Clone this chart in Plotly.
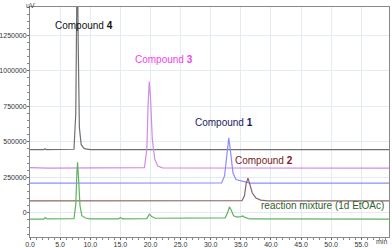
import plotly.graph_objects as go

# ---- data ----
t_c4 = [0, 2.3, 2.5, 2.7, 7.3, 7.6, 7.8, 7.9, 8.0, 8.2, 8.5, 9.0, 10.0, 59.6]
v_c4 = [445000, 445000, 452000, 445000, 448000, 700000, 1650000, 1650000, 1200000, 600000, 480000, 452000, 446000, 445000]

t_c3 = [0, 3.0, 19.0, 19.4, 19.6, 19.8, 20.0, 20.3, 20.7, 21.2, 22.0, 59.6]
v_c3 = [318000, 315000, 318000, 450000, 750000, 925000, 820000, 520000, 380000, 330000, 317000, 315000]

t_c1 = [0, 19.5, 19.9, 20.5, 31.8, 32.3, 32.7, 33.0, 33.3, 33.7, 34.2, 35.0, 35.8, 36.5, 59.6]
v_c1 = [209000, 209000, 213000, 209000, 211000, 260000, 440000, 528000, 430000, 280000, 235000, 225000, 215000, 210000, 209000]

t_c2 = [0, 35.2, 35.6, 35.9, 36.2, 36.5, 36.9, 37.5, 38.3, 39.5, 59.6]
v_c2 = [84500, 86000, 120000, 210000, 245000, 200000, 140000, 105000, 90000, 85000, 84500]

t_mix = [0, 2.3, 2.5, 2.8, 7.3, 7.6, 7.8, 7.9, 8.05, 8.3, 8.6, 9.2, 10, 14.7, 15.0, 15.4,
         19.4, 19.8, 20.2, 20.8, 32.4, 32.8, 33.1, 33.4, 33.8, 34.4, 35.0, 35.3, 35.7, 36.5, 59.6]
v_mix = [-44000, -44000, -33000, -42000, -40000, 60000, 300000, 357000, 250000, 50000, -20000, -36000,
         -42000, -42000, -34000, -42000, -40000, -9000, -25000, -38000, -35000, 0, 42000, 20000,
         -20000, -30000, -26000, -22000, -32000, -43000, -44000]

x_ticks = [0, 5, 10, 15, 20, 25, 30, 35, 40, 45, 50, 55]
y_ticks = [0, 250000, 500000, 750000, 1000000, 1250000]

labels = ["Compound <b>4</b>", "Compound <b>3</b>", "Compound <b>1</b>", "Compound <b>2</b>",
          "reaction mixture (1d EtOAc)"]
label_x = [9.0, 22.3, 32.2, 38.9, 48.5]
label_y = [1317000, 1077000, 634000, 366000, 49000]
label_colors = ["#111111", "#ee44ee", "#1a1a5e", "#7a1a1a", "#2e5e2e"]

fig = go.Figure()
series = [(t_c4, v_c4, "#707070"), (t_c3, v_c3, "#d08ae8"), (t_c1, v_c1, "#8c8cff"),
          (t_c2, v_c2, "#8c6464"), (t_mix, v_mix, "#62b262")]
for t, v, c in series:
    fig.add_trace(go.Scatter(x=t, y=v, mode="lines", line=dict(color=c, width=1.2), showlegend=False))

for txt, lx, ly, lc in zip(labels, label_x, label_y, label_colors):
    fig.add_annotation(x=lx, y=ly, text=txt, showarrow=False,
                       font=dict(family="Liberation Sans", size=10, color=lc))

fig.add_annotation(xref="paper", yref="paper", x=0, y=1, xanchor="center", yanchor="bottom",
                   yshift=-3, borderpad=0, text="uV", showarrow=False,
                   font=dict(family="Liberation Sans", size=7, color="#444"))
fig.add_annotation(xref="paper", yref="paper", x=1, y=0, xanchor="right", yanchor="top", yshift=1,
                   text="min", showarrow=False, font=dict(family="Liberation Sans", size=7, color="#444"))

axis_common = dict(showline=True, linecolor="#888", linewidth=1, mirror=True,
                   gridcolor="#e4ecf2", gridwidth=1, zeroline=False, automargin=False,
                   ticks="outside", ticklen=2, tickcolor="#666",
                   tickfont=dict(family="Liberation Sans", size=7, color="#333"))
fig.update_xaxes(range=[0, 59.6], tickvals=x_ticks, ticktext=[f"{v:.1f}" for v in x_ticks],
                 ticklabelstandoff=-1,
                 minor=dict(dtick=1, ticks="outside", ticklen=2, tickcolor="#888", showgrid=False),
                 **axis_common)
fig.update_yaxes(range=[-170000, 1450000], tickvals=y_ticks, ticktext=[str(v) for v in y_ticks],
                 ticklabelstandoff=-1,
                 minor=dict(dtick=50000, ticks="outside", ticklen=2, tickcolor="#888", showgrid=False),
                 **axis_common)
fig.update_layout(width=392, height=248, margin=dict(l=30, r=3, t=7, b=11),
                  plot_bgcolor="white", paper_bgcolor="white")
fig.write_html("out.html", config={"displayModeBar": False},
               post_script="document.body.style.margin='0';document.body.style.padding='0';")
